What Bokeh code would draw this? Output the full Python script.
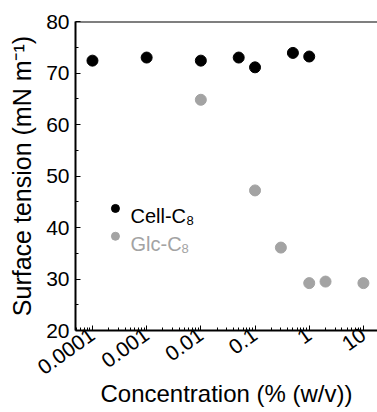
import math
from bokeh.plotting import figure
from bokeh.models import FixedTicker, Span, Label
from bokeh.embed import file_html
from bokeh.resources import INLINE

# ---- data ----
cell_conc = [0.0001, 0.001, 0.01, 0.05, 0.1, 0.5, 1.0]
cell_tension = [72.4, 73.0, 72.4, 73.0, 71.1, 73.9, 73.2]

glc_conc = [0.01, 0.1, 0.3, 1.0, 2.0, 10.0]
glc_tension = [64.8, 47.2, 36.1, 29.2, 29.5, 29.2]

x_tick_values = [0.0001, 0.001, 0.01, 0.1, 1, 10]
x_tick_labels = ["0.0001", "0.001", "0.01", "0.1", "1", "10"]
y_tick_values = [20, 30, 40, 50, 60, 70, 80]
y_minor_values = [25, 35, 45, 55, 65, 75]

series_names = ["Cell-C", "Glc-C"]
series_sub = ["8", "8"]
colors = ["#000000", "#a3a3a3"]

x_title = "Concentration (% (w/v))"
y_title = "Surface tension (mN m\u207b\u00b9)"

FONT = "Liberation Sans"

p = figure(width=377, height=412, x_axis_type="log",
           x_range=(10 ** -4.313, 10 ** 1.26), y_range=(20, 80),
           output_backend="svg", toolbar_location=None,
           min_border_left=75, min_border_right=0, min_border_top=21, min_border_bottom=82)
p.outline_line_color = None
p.grid.visible = False
p.background_fill_color = "white"
p.border_fill_color = "white"

minor = []
for e in range(-5, 2):
    for k in range(2, 10):
        minor.append(k * 10 ** e)

xa = p.xaxis[0]
xa.ticker = FixedTicker(ticks=x_tick_values, minor_ticks=minor)
xa.major_label_overrides = {v: l for v, l in zip(x_tick_values, x_tick_labels)}
xa.major_label_orientation = 0.62
xa.axis_label = x_title

ya = p.yaxis[0]
ya.ticker = FixedTicker(ticks=y_tick_values, minor_ticks=y_minor_values)
ya.axis_label = y_title

for ax in (xa, ya):
    ax.axis_line_color = "black"
    ax.axis_line_width = 2
    ax.major_tick_in = 5
    ax.major_tick_out = 0
    ax.minor_tick_in = 3
    ax.minor_tick_out = 0
    ax.major_tick_line_color = "black"
    ax.minor_tick_line_color = "black"
    ax.major_label_text_font = FONT
    ax.major_label_text_font_size = "21px"
    ax.major_label_text_color = "black"
    ax.axis_label_text_font = FONT
    ax.axis_label_text_font_style = "normal"
    ax.axis_label_text_color = "black"
    ax.major_label_standoff = 6

ya.axis_label_text_font_size = "25px"
xa.axis_label_text_font_size = "24px"
xa.major_label_standoff = 2
xa.axis_label_standoff = -4
ya.axis_label_standoff = 7

p.add_layout(Span(location=80, dimension="width", line_color="black", line_width=2))

p.scatter(cell_conc, cell_tension, size=11, color=colors[0])
p.scatter(glc_conc, glc_tension, size=11, color=colors[1])

# legend (manual, for subscript)
leg_x = 10 ** -3.576
leg_y = [43.7, 38.3]
base_y = [330 - 215, 330 - 243]
sub_dx = [56, 51]
for i in range(2):
    p.scatter([leg_x], [leg_y[i]], size=8, color=colors[i])
    p.add_layout(Label(x=130 - 75, y=base_y[i], x_units="screen", y_units="screen",
                       text=series_names[i], text_font=FONT, text_font_size="20px",
                       text_color=colors[i], text_baseline="alphabetic"))
    p.add_layout(Label(x=130 - 75 + sub_dx[i], y=base_y[i] - 5, x_units="screen", y_units="screen",
                       text=series_sub[i], text_font=FONT, text_font_size="13px",
                       text_color=colors[i], text_baseline="alphabetic"))

open("out.html", "w").write(file_html(p, INLINE))
